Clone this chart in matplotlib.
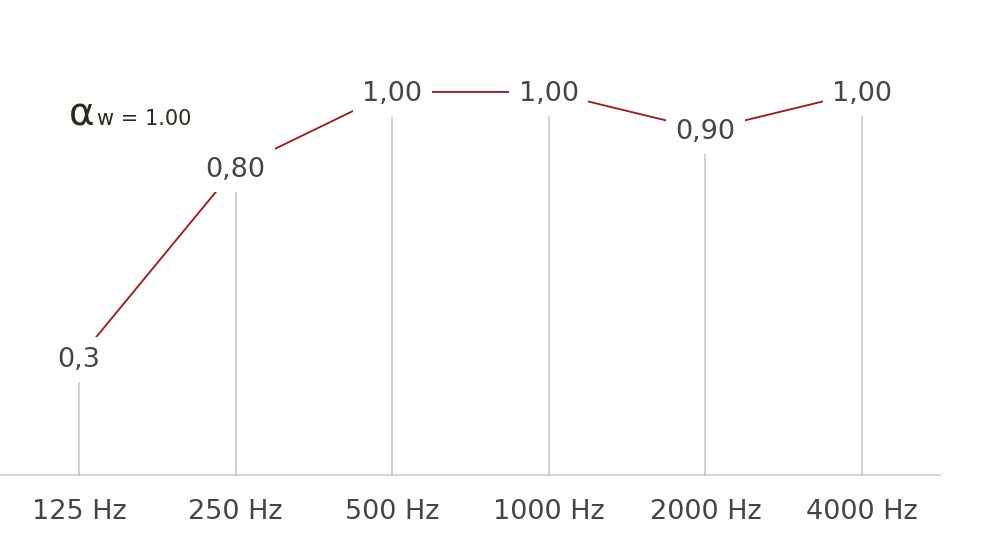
import matplotlib
matplotlib.use("Agg")
import matplotlib.pyplot as plt

bands = ["125 Hz", "250 Hz", "500 Hz", "1000 Hz", "2000 Hz", "4000 Hz"]
alpha_p = [0.30, 0.80, 1.00, 1.00, 0.90, 1.00]
value_labels = ["0,3", "0,80", "1,00", "1,00", "0,90", "1,00"]
alpha_w = "1.00"

plt.rcParams["font.family"] = ["DejaVu Sans"]

fig = plt.figure(figsize=(10, 5.54), dpi=100)
ax = fig.add_axes([0, 0, 1, 1])
ax.set_xlim(-0.5045, 5.881)
ax.set_ylim(-0.216, 1.242)
ax.axis("off")

x = list(range(len(bands)))

# baseline
ax.plot([-0.6, 5.5], [-0.008, -0.008], color="#c9d5e3", lw=1.3, zorder=1)

# vertical stems
for xi, v in zip(x, alpha_p):
    ax.plot([xi, xi], [-0.008, v - 0.055], color="#c4c4ca", lw=1.1, zorder=1)

# red curve, hidden behind label boxes
ax.plot(x, alpha_p, color="#a31515", lw=1.3, zorder=2)

for xi, v, lab in zip(x, alpha_p, value_labels):
    ax.text(xi, v - 0.005, lab, ha="center", va="center", fontsize=19.5, color="#454545",
            zorder=3, bbox=dict(boxstyle="square,pad=0.35", fc="white", ec="none"))

for xi, lab in zip(x, bands):
    ax.text(xi, -0.105, lab, ha="center", va="center", fontsize=19.5, color="#454545")

# alpha_w annotation
ax.text(0.10, 0.913, "α", ha="right", va="baseline", fontsize=28, color="#2b2b1c")
ax.text(0.115, 0.913, "w = " + alpha_w, ha="left", va="baseline", fontsize=15,
        color="#2b2b1c")

fig.savefig("out.png", dpi=100, facecolor="white")
